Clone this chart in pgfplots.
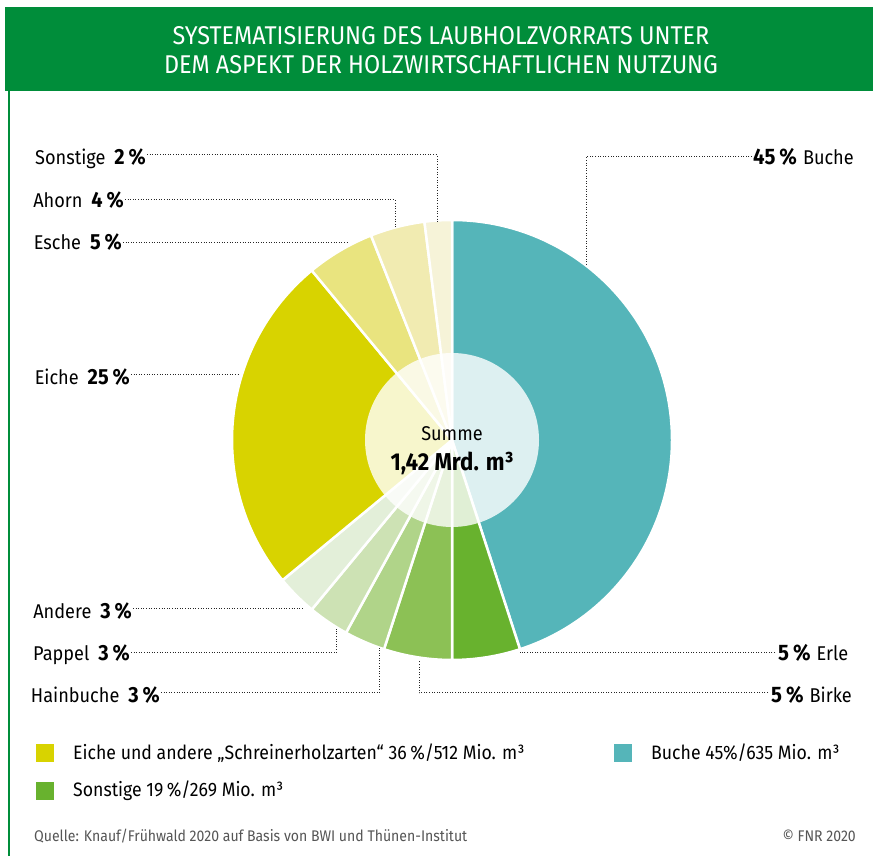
\documentclass[border=0pt]{standalone}
\usepackage{pgfplots}
\pgfplotsset{compat=1.18}
\usepackage{pgfplotstable}
\usepackage{fontspec}
\setmainfont{Fira Sans}[FakeStretch=0.91]
\definecolor{cBuche}{HTML}{55B5B9}
\definecolor{cErle}{HTML}{68B22E}
\definecolor{cBirke}{HTML}{8CC155}
\definecolor{cHain}{HTML}{B0D489}
\definecolor{cPappel}{HTML}{CDE2B4}
\definecolor{cAndere}{HTML}{E3EFD9}
\definecolor{cEiche}{HTML}{D8D300}
\definecolor{cEsche}{HTML}{E9E47F}
\definecolor{cAhorn}{HTML}{F1EBB1}
\definecolor{cSonst}{HTML}{F6F3D8}
\definecolor{fnrgreen}{HTML}{008D3A}
\definecolor{srcgray}{HTML}{555555}

\pgfplotstableread{
name pct col
Buche 45 cBuche
Erle 5 cErle
Birke 5 cBirke
Hainbuche 3 cHain
Pappel 3 cPappel
Andere 3 cAndere
Eiche 25 cEiche
Esche 5 cEsche
Ahorn 4 cAhorn
Sonstige 2 cSonst
}\piedata

\newcommand{\lab}[2]{\fontsize{20}{22}\selectfont #1\hspace{0.45em}{\fontsize{22}{24}\selectfont\bfseries #2}}
\newcommand{\rlab}[2]{{\fontsize{22.5}{24}\selectfont\bfseries #1}\hspace{0.6em}\fontsize{20}{22}\selectfont #2}
\newcommand{\pc}[1]{#1\hspace{0.18em}\%}

\begin{document}
\begin{tikzpicture}
\begin{axis}[scale only axis, width=873bp, height=856bp,
  xmin=0, xmax=873, ymin=0, ymax=856, hide axis, clip=false]
% background
\fill[white] (axis cs:0,0) rectangle (axis cs:873,856);
% title band
\fill[fnrgreen] (axis cs:5,765) rectangle (axis cs:873,849);
\fill[fnrgreen] (axis cs:8,0) rectangle (axis cs:10,765);
\node[white, align=center, font=\fontsize{25.8}{29}\selectfont] at (axis cs:441,806)
  {SYSTEMATISIERUNG DES LAUBHOLZVORRATS UNTER\\DEM ASPEKT DER HOLZWIRTSCHAFTLICHEN NUTZUNG};
% pie
\pgfplotstablegetrowsof{\piedata}
\pgfmathtruncatemacro\N{\pgfplotsretval-1}
\def\startA{90}
\pgfplotsforeachungrouped \i in {0,...,\N}{%
  \pgfplotstablegetelem{\i}{pct}\of\piedata \let\pct\pgfplotsretval
  \pgfplotstablegetelem{\i}{col}\of\piedata \let\col\pgfplotsretval
  \pgfmathsetmacro\endA{\startA-3.6*\pct}%
  \edef\temp{\noexpand\fill[\col, draw=white, line width=2.5bp, line join=round]
    (axis cs:452,416) -- ++(\startA:220bp) arc[start angle=\startA, end angle=\endA, radius=220bp] -- cycle;}%
  \temp
  \global\let\startA\endA
}
\fill[white, opacity=0.8] (axis cs:452,416) circle[radius=87bp];
\node[font=\fontsize{20}{22}\selectfont] at (axis cs:452,422) {Summe};
\node[font=\fontsize{24.5}{26}\selectfont\bfseries] at (axis cs:452,393) {1,42 Mrd. m³};
% leader lines
\tikzset{lead/.style={black!85, line width=1bp, dash pattern=on 1bp off 1.6bp}}
\draw[lead] (axis cs:147,701) -- (axis cs:437,701) -- (axis cs:437,634);
\draw[lead] (axis cs:125,656) -- (axis cs:395,656) -- (axis cs:395,628);
\draw[lead] (axis cs:123,613) -- (axis cs:348,613);
\draw[lead] (axis cs:131,481) -- (axis cs:238,481);
\draw[lead] (axis cs:133,247) -- (axis cs:304,247);
\draw[lead] (axis cs:131,203) -- (axis cs:336,203) -- (axis cs:336,227);
\draw[lead] (axis cs:161,163) -- (axis cs:379,163) -- (axis cs:379,208);
\draw[lead] (axis cs:768,163) -- (axis cs:419,163) -- (axis cs:419,196);
\draw[lead] (axis cs:775,203) -- (axis cs:520,203);
\draw[lead] (axis cs:752,699) -- (axis cs:586,699) -- (axis cs:586,591);
% labels
\node[anchor=base east, inner sep=1bp] at (axis cs:147,691) {\lab{Sonstige}{\pc{2}}};
\node[anchor=base east, inner sep=1bp] at (axis cs:125,648) {\lab{Ahorn}{\pc{4}}};
\node[anchor=base east, inner sep=1bp] at (axis cs:123,606) {\lab{Esche}{\pc{5}}};
\node[anchor=base east, inner sep=1bp] at (axis cs:131,471) {\lab{Eiche}{\pc{25}}};
\node[anchor=base east, inner sep=1bp] at (axis cs:133,237) {\lab{Andere}{\pc{3}}};
\node[anchor=base east, inner sep=1bp] at (axis cs:131,195) {\lab{Pappel}{\pc{3}}};
\node[anchor=base east, inner sep=1bp] at (axis cs:161,153) {\lab{Hainbuche}{\pc{3}}};
\node[anchor=base west, inner sep=1bp] at (axis cs:752,691) {\rlab{\pc{45}}{Buche}};
\node[anchor=base west, inner sep=1bp] at (axis cs:777,195) {\rlab{\pc{5}}{Erle}};
\node[anchor=base west, inner sep=1bp] at (axis cs:770,153) {\rlab{\pc{5}}{Birke}};
% legend
\fill[cEiche] (axis cs:36,94) rectangle (axis cs:54,112);
\fill[cErle] (axis cs:36,56) rectangle (axis cs:54,74);
\fill[cBuche] (axis cs:614,94) rectangle (axis cs:632,112);
\node[anchor=west, inner sep=0pt, font=\fontsize{19.5}{21}\selectfont] at (axis cs:73,103)
  {Eiche und andere „Schreinerholzarten“ 36\hspace{0.18em}\%/512 Mio. m³};
\node[anchor=west, inner sep=0pt, font=\fontsize{19.5}{21}\selectfont] at (axis cs:651,103)
  {Buche 45\%/635 Mio. m³};
\node[anchor=west, inner sep=0pt, font=\fontsize{19.5}{21}\selectfont] at (axis cs:73,65)
  {Sonstige 19\hspace{0.18em}\%/269 Mio. m³};
% source
\node[anchor=west, inner sep=0pt, text=srcgray, font=\fontsize{15.5}{18}\selectfont] at (axis cs:34,20)
  {Quelle: Knauf/Frühwald 2020 auf Basis von BWI und Thünen-Institut};
\node[anchor=east, inner sep=0pt, text=srcgray, font=\fontsize{15.5}{18}\selectfont] at (axis cs:856,20)
  {© FNR 2020};
\end{axis}
\end{tikzpicture}
\end{document}
